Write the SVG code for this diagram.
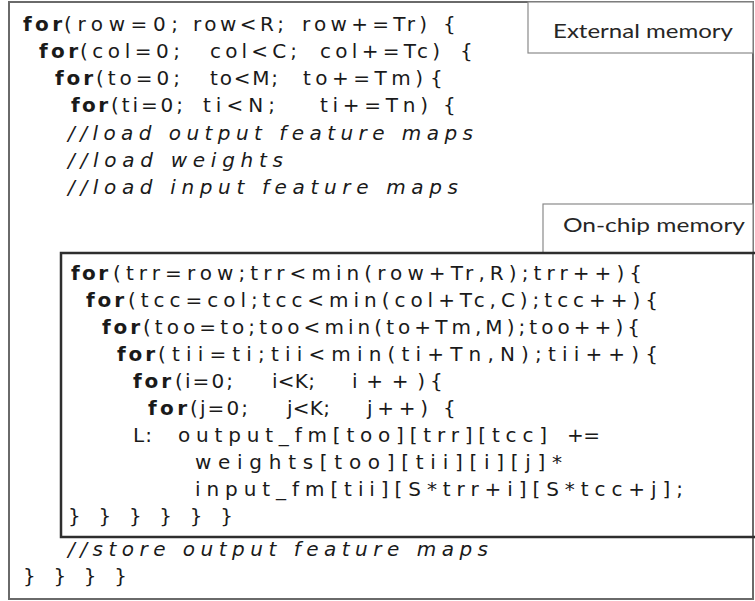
<svg xmlns="http://www.w3.org/2000/svg" width="755" height="601" viewBox="0 0 755 601">
  <style>
    .code { font-family: "DejaVu Sans", "Liberation Sans", sans-serif; font-size: 20px; fill: #1a1a1a; }
    .kw { font-weight: bold; }
    .cm { font-style: italic; }
    .label { font-family: "Lato", "Open Sans", sans-serif; font-size: 19px; fill: #262626; }
    .outer { fill: #ffffff; stroke: #6a6a6a; stroke-width: 2; }
    .inner { fill: none; stroke: #2e2e2e; stroke-width: 2.5; }
    .tag { fill: #ffffff; stroke: #8a8a8a; stroke-width: 1.2; }
  </style>

  <rect width="755" height="601" fill="#ffffff"/>

  <!-- external memory region: tiling loops -->
  <g id="external-memory">
    <rect class="outer" x="9" y="2" width="744" height="597"/>
    <rect class="tag" x="528" y="2" width="225" height="51"/>
    <text class="label" x="553" y="38" textLength="180" lengthAdjust="spacingAndGlyphs">External memory</text>

    <g class="code">
      <text class="kw" x="23" y="31" textLength="39" lengthAdjust="spacing">for</text>
      <text x="64" y="31" textLength="114" lengthAdjust="spacing">(row=0;</text>
      <text x="193" y="31" textLength="91" lengthAdjust="spacing">row&lt;R;</text>
      <text x="302" y="31" textLength="125" lengthAdjust="spacing">row+=Tr)</text>
      <text x="443" y="31">{</text>

      <text class="kw" x="39" y="58" textLength="39" lengthAdjust="spacing">for</text>
      <text x="80" y="58" textLength="100" lengthAdjust="spacing">(col=0;</text>
      <text x="210" y="58" textLength="87" lengthAdjust="spacing">col&lt;C;</text>
      <text x="320" y="58" textLength="120" lengthAdjust="spacing">col+=Tc)</text>
      <text x="460" y="58">{</text>

      <text class="kw" x="55" y="85" textLength="38" lengthAdjust="spacing">for</text>
      <text x="96" y="85" textLength="84" lengthAdjust="spacing">(to=0;</text>
      <text x="210" y="85" textLength="68" lengthAdjust="spacing">to&lt;M;</text>
      <text x="303" y="85" textLength="120" lengthAdjust="spacing">to+=Tm)</text>
      <text x="430" y="85">{</text>

      <text class="kw" x="71" y="112" textLength="37" lengthAdjust="spacing">for</text>
      <text x="111" y="112" textLength="72" lengthAdjust="spacing">(ti=0;</text>
      <text x="203" y="112" textLength="72" lengthAdjust="spacing">ti&lt;N;</text>
      <text x="320" y="112" textLength="108" lengthAdjust="spacing">ti+=Tn)</text>
      <text x="443" y="112">{</text>

      <text class="cm" x="68" y="140" textLength="405" lengthAdjust="spacing">//load output feature maps</text>
      <text class="cm" x="68" y="167" textLength="215" lengthAdjust="spacing">//load weights</text>
      <text class="cm" x="68" y="194" textLength="390" lengthAdjust="spacing">//load input feature maps</text>

      <text class="cm" x="68" y="556" textLength="420" lengthAdjust="spacing">//store output feature maps</text>
      <text x="23" y="583" textLength="104" lengthAdjust="spacing">} } } }</text>
    </g>
  </g>

  <!-- on-chip memory region: compute loops over one tile -->
  <g id="on-chip-memory">
    <rect class="tag" x="543" y="204" width="210" height="49"/>
    <text class="label" x="563" y="232" textLength="182" lengthAdjust="spacingAndGlyphs">On-chip memory</text>
    <rect class="inner" x="61" y="253" width="700" height="284"/>

    <g class="code">
      <text class="kw" x="71" y="280" textLength="37" lengthAdjust="spacing">for</text>
      <text x="113" y="280" textLength="529" lengthAdjust="spacing">(trr=row;trr&lt;min(row+Tr,R);trr++){</text>

      <text class="kw" x="86" y="307" textLength="38" lengthAdjust="spacing">for</text>
      <text x="128" y="307" textLength="530" lengthAdjust="spacing">(tcc=col;tcc&lt;min(col+Tc,C);tcc++){</text>

      <text class="kw" x="102" y="334" textLength="38" lengthAdjust="spacing">for</text>
      <text x="143" y="334" textLength="497" lengthAdjust="spacing">(too=to;too&lt;min(to+Tm,M);too++){</text>

      <text class="kw" x="117" y="361" textLength="38" lengthAdjust="spacing">for</text>
      <text x="158" y="361" textLength="500" lengthAdjust="spacing">(tii=ti;tii&lt;min(ti+Tn,N);tii++){</text>

      <text class="kw" x="133" y="388" textLength="38" lengthAdjust="spacing">for</text>
      <text x="175" y="388" textLength="58" lengthAdjust="spacing">(i=0;</text>
      <text x="272" y="388" textLength="43" lengthAdjust="spacing">i&lt;K;</text>
      <text x="352" y="388" textLength="73" lengthAdjust="spacing">i++)</text>
      <text x="430" y="388">{</text>

      <text class="kw" x="148" y="415" textLength="39" lengthAdjust="spacing">for</text>
      <text x="190" y="415" textLength="58" lengthAdjust="spacing">(j=0;</text>
      <text x="287" y="415" textLength="43" lengthAdjust="spacing">j&lt;K;</text>
      <text x="367" y="415" textLength="61" lengthAdjust="spacing">j++)</text>
      <text x="443" y="415">{</text>

      <text x="133" y="442" textLength="19" lengthAdjust="spacing">L:</text>
      <text x="178" y="442" textLength="369" lengthAdjust="spacing">output_fm[too][trr][tcc]</text>
      <text x="567" y="442" textLength="33" lengthAdjust="spacing">+=</text>

      <text x="195" y="469" textLength="367" lengthAdjust="spacing">weights[too][tii][i][j]*</text>
      <text x="195" y="496" textLength="488" lengthAdjust="spacing">input_fm[tii][S*trr+i][S*tcc+j];</text>

      <text x="68" y="523" textLength="165" lengthAdjust="spacing">} } } } } }</text>
    </g>
  </g>
</svg>
